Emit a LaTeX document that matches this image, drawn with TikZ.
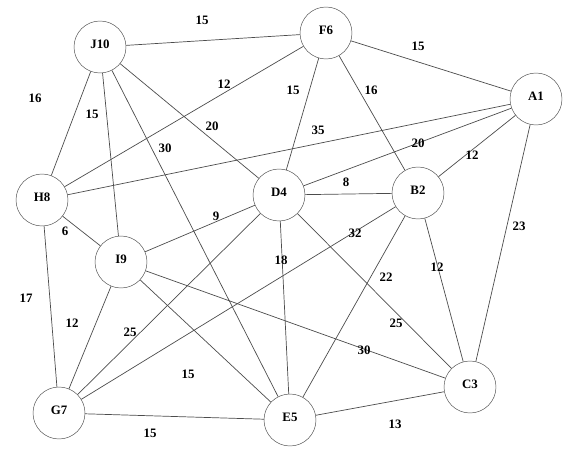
\documentclass[tikz,border=0pt]{standalone}
\usepackage{fontspec}
\setmainfont{Liberation Serif}
\usetikzlibrary{calc}

\begin{document}
\begin{tikzpicture}[x=0.03cm,y=-0.03cm,
  vert/.style={draw=black!70,circle,minimum size=1.56cm,inner sep=0pt,
    text height=0.27cm,text depth=0.18cm,
    font=\fontsize{11}{13}\selectfont\bfseries},
  edge/.style={draw=black!70,line width=0.6pt},
  wt/.style={inner sep=1pt,font=\fontsize{11}{13}\selectfont\bfseries}]
  \useasboundingbox (0,0) rectangle (568,453);
  % vertices
  \node[vert] (J10) at (100,47) {J10};
  \node[vert] (F6) at (326,33) {F6};
  \node[vert] (A1) at (536,99) {A1};
  \node[vert] (H8) at (42,200) {H8};
  \node[vert] (D4) at (279,195) {D4};
  \node[vert] (B2) at (418,193) {B2};
  \node[vert] (I9) at (121,262) {I9};
  \node[vert] (G7) at (59,413) {G7};
  \node[vert] (E5) at (290,420) {E5};
  \node[vert] (C3) at (470,387) {C3};
  % edges
  \draw[edge] (J10) -- (F6);
  \draw[edge] (F6) -- (A1);
  \draw[edge] (J10) -- (H8);
  \draw[edge] (J10) -- (I9);
  \draw[edge] (J10) -- (E5);
  \draw[edge] (J10) -- (D4);
  \draw[edge] (H8) -- (F6);
  \draw[edge] (H8) -- (A1);
  \draw[edge] (F6) -- (D4);
  \draw[edge] (F6) -- (B2);
  \draw[edge] (A1) -- (D4);
  \draw[edge] (A1) -- (B2);
  \draw[edge] (A1) -- (C3);
  \draw[edge] (D4) -- (B2);
  \draw[edge] (D4) -- (I9);
  \draw[edge] (H8) -- (I9);
  \draw[edge] (H8) -- (G7);
  \draw[edge] (D4) -- (E5);
  \draw[edge] (B2) -- (G7);
  \draw[edge] (B2) -- (E5);
  \draw[edge] (B2) -- (C3);
  \draw[edge] (D4) -- (C3);
  \draw[edge] (I9) -- (C3);
  \draw[edge] (I9) -- (G7);
  \draw[edge] (D4) -- (G7);
  \draw[edge] (I9) -- (E5);
  \draw[edge] (G7) -- (E5);
  \draw[edge] (E5) -- (C3);
  % weights
  \node[wt] (wJF) at (202,20) {15};
  \node[wt] (wFA) at (418,46) {15};
  \node[wt] (wJH) at (35,98) {16};
  \node[wt] (wJI) at (92,114) {15};
  \node[wt] (wJE) at (165,148) {30};
  \node[wt] (wJD) at (212,126) {20};
  \node[wt] (wHF) at (224,84) {12};
  \node[wt] (wHA) at (318,130) {35};
  \node[wt] (wFD) at (293,90) {15};
  \node[wt] (wFB) at (371,90) {16};
  \node[wt] (wAD) at (418,143) {20};
  \node[wt] (wAB) at (472,155) {12};
  \node[wt] (wAC) at (519,226) {23};
  \node[wt] (wDB) at (346,182) {8};
  \node[wt] (wDI) at (216,216) {9};
  \node[wt] (wHI) at (65,231) {6};
  \node[wt] (wHG) at (26,298) {17};
  \node[wt] (wDE) at (281,260) {18};
  \node[wt] (wBG) at (355,233) {32};
  \node[wt] (wBE) at (386,277) {22};
  \node[wt] (wBC) at (437,267) {12};
  \node[wt] (wDC) at (396,323) {25};
  \node[wt] (wIC) at (364,350) {30};
  \node[wt] (wIG) at (72,323) {12};
  \node[wt] (wDG) at (130,332) {25};
  \node[wt] (wIE) at (188,374) {15};
  \node[wt] (wGE) at (150,433) {15};
  \node[wt] (wEC) at (395,424) {13};
\end{tikzpicture}
\end{document}
